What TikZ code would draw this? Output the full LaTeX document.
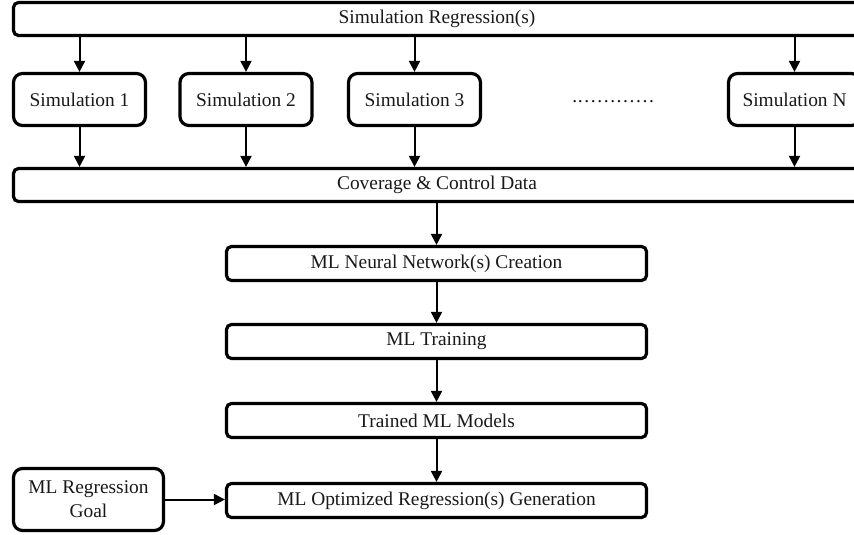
\documentclass[tikz,border=0pt]{standalone}
\usepackage{fontspec}
\setmainfont{Liberation Serif}
\usetikzlibrary{arrows.meta}
\begin{document}
\begin{tikzpicture}[x=1pt,y=-1pt,
  font=\fontsize{19.4}{23}\selectfont,
  box/.style={draw=black,line width=3.2pt,rounded corners=5pt,fill=white,
    inner sep=0pt,align=center,text=black!90},
  simbox/.style={box,rounded corners=9pt,minimum width=132pt,minimum height=52pt},
  wide/.style={box,minimum width=847pt,minimum height=33pt},
  mid/.style={box,minimum width=420pt,minimum height=34pt},
  arr/.style={draw=black,line width=2pt,-{Triangle[length=11pt,width=11pt]}}]
\useasboundingbox (0,0) rectangle (854,535);
\clip (0,0) rectangle (854,535);
\node[wide] (top) at (437,19) {Simulation Regression(s)};
\node[simbox] (s1) at (79.5,99.5) {Simulation 1};
\node[simbox] (s2) at (246,99.5) {Simulation 2};
\node[simbox] (s3) at (414.5,99.5) {Simulation 3};
\node[simbox] (sn) at (794.5,99.5) {Simulation N};
\node[text=black!90] (dots) at (613.5,102) {.…………};
\node[wide] (cov) at (437,185) {Coverage \& Control Data};
\node[mid] (nn) at (436.5,263.5) {ML Neural Network(s) Creation};
\node[mid] (tr) at (436.5,341.5) {ML Training};
\node[mid] (tm) at (436.5,420.5) {Trained ML Models};
\node[mid] (opt) at (436.5,500.5) {ML Optimized Regression(s) Generation};
\node[box,rounded corners=9pt,minimum width=150pt,minimum height=62pt] (goal) at (88.5,499.5) {ML Regression\\[1pt]Goal};
\foreach \s in {s1,s2,s3,sn}{
  \draw[arr] (top.south -| \s.north) -- (\s.north);
  \draw[arr] (\s.south) -- (cov.north -| \s.south);
}
\draw[arr] (cov.south -| nn.north) -- (nn.north);
\draw[arr] (nn) -- (tr);
\draw[arr] (tr) -- (tm);
\draw[arr] (tm) -- (opt);
\draw[arr] (goal.east) -- (goal.east -| opt.west);
\end{tikzpicture}
\end{document}
